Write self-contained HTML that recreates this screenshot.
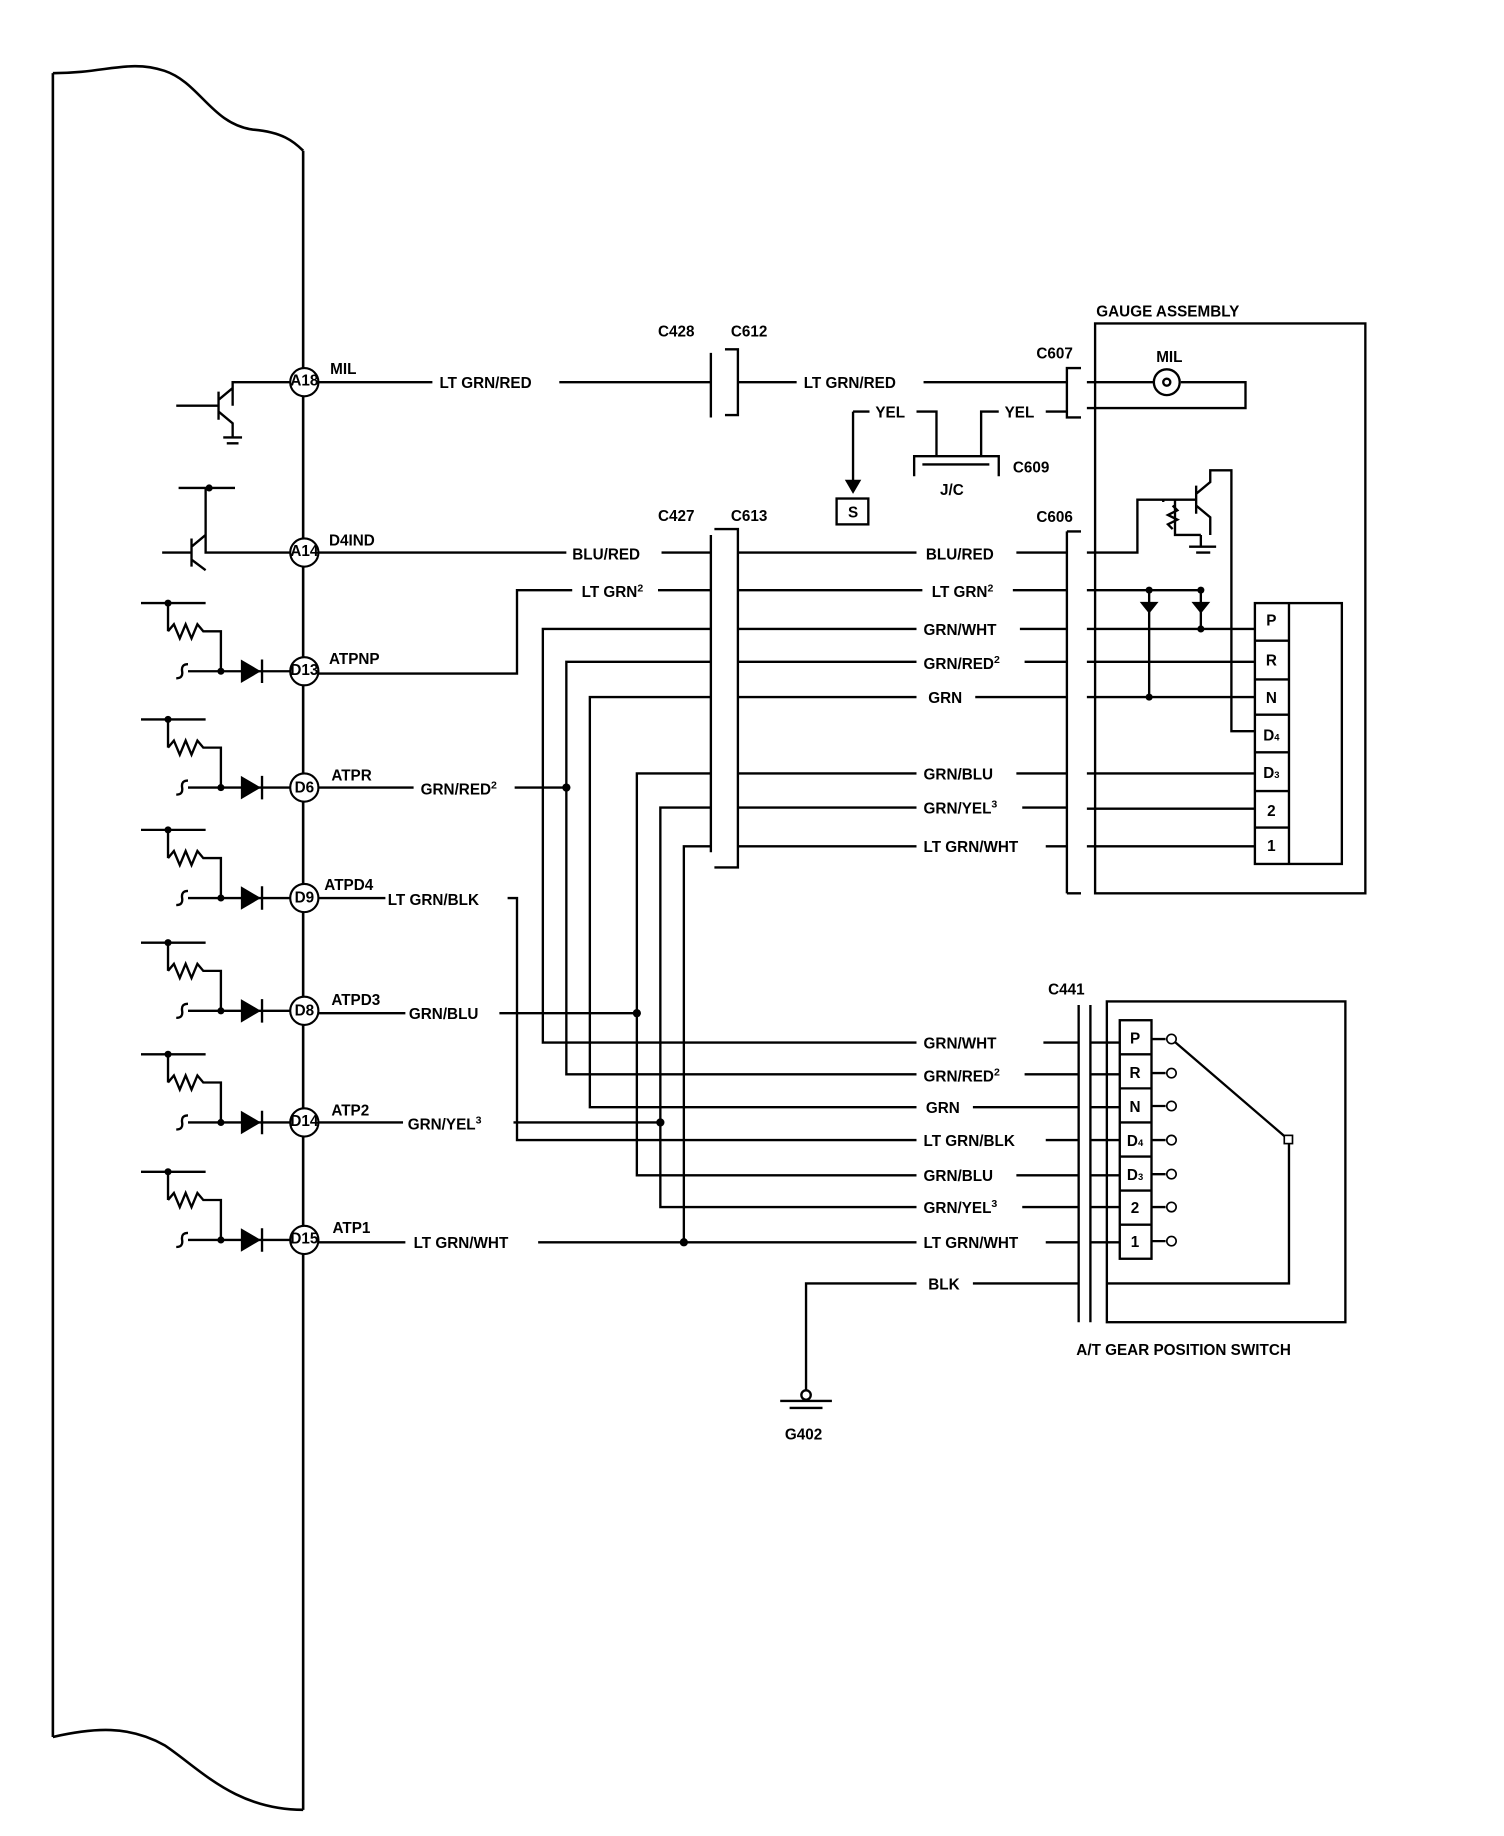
<!DOCTYPE html>
<html><head><style>
html,body{margin:0;padding:0;background:#fff}
svg{display:block}
text{font-family:"Liberation Sans",sans-serif;font-weight:bold;font-size:13px;fill:#000}
</style></head><body>
<svg width="1504" height="1836" viewBox="0 0 1280 1562" xmlns="http://www.w3.org/2000/svg">
<g fill="none" stroke="#000" stroke-width="2.2">
<path d="M45 62 C90 62,110 50,140 60 C170 70,180 105,215 110 C240 112,250 120,258 128"/>
<line x1="45" y1="62" x2="45" y2="1478"/>
<line x1="258" y1="128" x2="258" y2="1540"/>
<path d="M45 1478 C80 1470,110 1468,140 1485 C170 1505,200 1540,258 1540"/>
</g>
<g fill="#fff" stroke="#000" stroke-width="1.8">
<circle cx="259" cy="325" r="12"/><circle cx="259" cy="470" r="12"/><circle cx="259" cy="571" r="12"/>
<circle cx="259" cy="670" r="12"/><circle cx="259" cy="764" r="12"/><circle cx="259" cy="860" r="12"/>
<circle cx="259" cy="955" r="12"/><circle cx="259" cy="1055" r="12"/>
</g>
<g style="font-size:9px" text-anchor="middle">
<text x="259" y="328">A18</text><text x="259" y="473">A14</text><text x="259" y="574">D13</text>
<text x="259" y="674">D6</text><text x="259" y="768">D9</text><text x="259" y="864">D8</text>
<text x="259" y="958">D14</text><text x="259" y="1058">D15</text>
</g>
<text x="281" y="318">MIL</text><text x="280" y="464">D4IND</text><text x="280" y="565">ATPNP</text>
<text x="282" y="664">ATPR</text><text x="276" y="757">ATPD4</text><text x="282" y="855">ATPD3</text>
<text x="282" y="949">ATP2</text><text x="283" y="1049">ATP1</text>

<g fill="none" stroke="#000" stroke-width="2">
<path d="M247 325 H198 V345 M186 333 V357 M150 345 H186 M186 340 L198 330 M186 350 L198 360 V372 M190 372 H206 M193 377 H203"/>
<path d="M247 470 H175 V415 M152 415 H200 M163 458 V482 M138 470 H163 M163 465 L175 455 M163 476 L175 485"/>
<path d="M271 325 H368 M476 325 H605 M605 300 V355 M617 297 H628 V353 H617 M628 325 H678 M786 325 H908 M920 313 H908 V355 H920 M925 325 H982 M1005 325 H1060 V347 H925 M890 350 H908"/>
<circle cx="993" cy="325" r="11"/><circle cx="993" cy="325" r="3"/>
<path d="M726 350 H740 M780 350 H797 V388 M726 350 V410 M835 388 V350 H850 M778 405 V388 H850 V405 M785 395 H842"/>
<rect x="712" y="424" width="27" height="22"/>
<path d="M271 470 H482 M563 470 H605"/>
<path d="M605 455 V725 M608 450 H628 V738 H608 M908 452 V760 M920 452 H908 M920 760 H908"/>
<path d="M628 470 H780 M865 470 H908 M628 502 H785 M862 502 H908 M628 535 H780 M868 535 H908 M628 563 H780 M872 563 H908 M628 593 H780 M830 593 H908 M628 658 H780 M865 658 H908 M628 687 H780 M870 687 H908 M628 720 H780 M890 720 H908"/>
<path d="M271 573 H440 V502 H487 M560 502 H605"/>
<path d="M605 535 H462 V887 H780"/>
<path d="M605 563 H482 V914 H780 M271 670 H352 M438 670 H482"/>
<path d="M605 593 H502 V942 H780"/>
<path d="M605 658 H542 V1000 H780 M271 862 H345 M425 862 H542"/>
<path d="M605 687 H562 V1027 H780 M271 955 H343 M437 955 H562"/>
<path d="M605 720 H582 V1057 H780 M271 1057 H345 M458 1057 H582"/>
<path d="M271 764 H328 M432 764 H440 V970 H780"/>
<path d="M918 855 V1125 M928 855 V1125 M888 887 H918 M872 914 H918 M828 942 H918 M890 970 H918 M865 1000 H918 M870 1027 H918 M890 1057 H918 M828 1092 H918"/>
<path d="M928 887 H953 M928 914 H953 M928 942 H953 M928 970 H953 M928 1000 H953 M928 1027 H953 M928 1057 H953"/>
<rect x="942" y="852" width="203" height="273"/>
<rect x="953" y="868" width="27" height="203"/>
<path d="M953 897 H980 M953 926 H980 M953 955 H980 M953 984 H980 M953 1013 H980 M953 1042 H980"/>
<path d="M980 884 H992 M980 913 H992 M980 941 H992 M980 970 H992 M980 999 H992 M980 1027 H992 M980 1056 H992"/>
<path d="M997 884 L1097 970 V1092 H942"/>
<path d="M780 1092 H686 V1183 M664 1192 H708 M672 1198 H700"/>
<circle cx="686" cy="1187" r="4"/>
<rect x="932" y="275" width="230" height="485"/>
<rect x="1068" y="513" width="74" height="222"/>
<path d="M1097 513 V735 M1068 545 H1097 M1068 578 H1097 M1068 608 H1097 M1068 640 H1097 M1068 673 H1097 M1068 704 H1097"/>
<path d="M925 470 H968 V425 H1000 M990 425 V427 M1000 425 V455 H1022 M1018 413 V437 M1000 425 H1018 M1018 420 L1030 410 V400 H1048 V622 H1068 M1018 430 L1030 440 V455 M1022 455 V465 M1012 465 H1035 M1018 470 H1030"/>
<path d="M998 430 l4 4 l-8 4 l8 4 l-8 4 l4 4"/>
<path d="M925 502 H1022 M978 502 V593 M1022 502 V535 M925 535 H1068 M925 563 H1068 M925 593 H1068 M925 658 H1068 M925 688 H1068 M925 720 H1068"/>
<g id="ic">
<path d="M120 513 H175 M143 513 V537 M143 537 l5 -6 l5 12 l5 -12 l5 12 l5 -12 l5 6 H188 V571 M160 571 H247 M160 565 q-6 0 -5 6 q1 6 -5 6"/>
</g>
<use href="#ic" y="99"/><use href="#ic" y="193"/><use href="#ic" y="289"/><use href="#ic" y="384"/><use href="#ic" y="484"/>
</g>
<g fill="#000">
<path d="M205 561 L222 571 L205 581 Z M222 561 h2 v20 h-2 Z" id="dd"/>
<use href="#dd" y="99"/><use href="#dd" y="193"/><use href="#dd" y="289"/><use href="#dd" y="384"/><use href="#dd" y="484"/>
<circle cx="143" cy="513" r="3"/><circle cx="143" cy="612" r="3"/><circle cx="143" cy="706" r="3"/><circle cx="143" cy="802" r="3"/><circle cx="143" cy="897" r="3"/><circle cx="143" cy="997" r="3"/>
<circle cx="188" cy="571" r="3"/><circle cx="188" cy="670" r="3"/><circle cx="188" cy="764" r="3"/><circle cx="188" cy="860" r="3"/><circle cx="188" cy="955" r="3"/><circle cx="188" cy="1055" r="3"/>
<circle cx="482" cy="670" r="3.5"/><circle cx="542" cy="862" r="3.5"/><circle cx="562" cy="955" r="3.5"/><circle cx="582" cy="1057" r="3.5"/>
<circle cx="978" cy="502" r="3"/><circle cx="978" cy="593" r="3"/><circle cx="1022" cy="535" r="3"/><circle cx="1022" cy="502" r="3"/>
<circle cx="178" cy="415" r="3"/>
<path d="M970 512 H986 L978 522 Z M1014 512 H1030 L1022 522 Z M719 408 H733 L726 420 Z"/>
</g>
<g fill="#fff" stroke="#000" stroke-width="1.4">
<circle cx="997" cy="884" r="4"/><circle cx="997" cy="913" r="4"/><circle cx="997" cy="941" r="4"/><circle cx="997" cy="970" r="4"/><circle cx="997" cy="999" r="4"/><circle cx="997" cy="1027" r="4"/><circle cx="997" cy="1056" r="4"/>
<rect x="1093" y="966" width="7" height="7"/>
</g>
<text x="374" y="330">LT GRN/RED</text><text x="684" y="330">LT GRN/RED</text>
<text x="560" y="286">C428</text><text x="622" y="286">C612</text><text x="882" y="305">C607</text>
<text x="984" y="308">MIL</text><text x="933" y="269">GAUGE ASSEMBLY</text>
<text x="745" y="355">YEL</text><text x="855" y="355">YEL</text><text x="862" y="402">C609</text><text x="800" y="421">J/C</text>
<text x="726" y="440" text-anchor="middle">S</text>
<text x="560" y="443">C427</text><text x="622" y="443">C613</text><text x="882" y="444">C606</text>
<text x="487" y="476">BLU/RED</text><text x="495" y="508">LT GRN<tspan dy="-5" style="font-size:9px">2</tspan></text>
<text x="788" y="476">BLU/RED</text><text x="793" y="508">LT GRN<tspan dy="-5" style="font-size:9px">2</tspan></text>
<text x="786" y="540">GRN/WHT</text><text x="786" y="569">GRN/RED<tspan dy="-5" style="font-size:9px">2</tspan></text>
<text x="790" y="598">GRN</text><text x="786" y="663">GRN/BLU</text><text x="786" y="692">GRN/YEL<tspan dy="-5" style="font-size:9px">3</tspan></text>
<text x="786" y="725">LT GRN/WHT</text>
<text x="358" y="676">GRN/RED<tspan dy="-5" style="font-size:9px">2</tspan></text>
<text x="330" y="770">LT GRN/BLK</text><text x="348" y="867">GRN/BLU</text>
<text x="347" y="961">GRN/YEL<tspan dy="-5" style="font-size:9px">3</tspan></text><text x="352" y="1062">LT GRN/WHT</text>
<text x="786" y="892">GRN/WHT</text><text x="786" y="920">GRN/RED<tspan dy="-5" style="font-size:9px">2</tspan></text>
<text x="788" y="947">GRN</text><text x="786" y="975">LT GRN/BLK</text><text x="786" y="1005">GRN/BLU</text>
<text x="786" y="1032">GRN/YEL<tspan dy="-5" style="font-size:9px">3</tspan></text><text x="786" y="1062">LT GRN/WHT</text>
<text x="790" y="1097">BLK</text><text x="892" y="846">C441</text>
<text x="916" y="1153">A/T GEAR POSITION SWITCH</text><text x="668" y="1225">G402</text>
<g text-anchor="middle">
<text x="1082" y="532">P</text><text x="1082" y="566">R</text><text x="1082" y="598">N</text>
<text x="1082" y="630">D<tspan style="font-size:8px">4</tspan></text><text x="1082" y="662">D<tspan style="font-size:8px">3</tspan></text>
<text x="1082" y="694">2</text><text x="1082" y="724">1</text>
<text x="966" y="888">P</text><text x="966" y="917">R</text><text x="966" y="946">N</text>
<text x="966" y="975">D<tspan style="font-size:8px">4</tspan></text><text x="966" y="1004">D<tspan style="font-size:8px">3</tspan></text>
<text x="966" y="1032">2</text><text x="966" y="1061">1</text>
</g>
</svg>
</body></html>
